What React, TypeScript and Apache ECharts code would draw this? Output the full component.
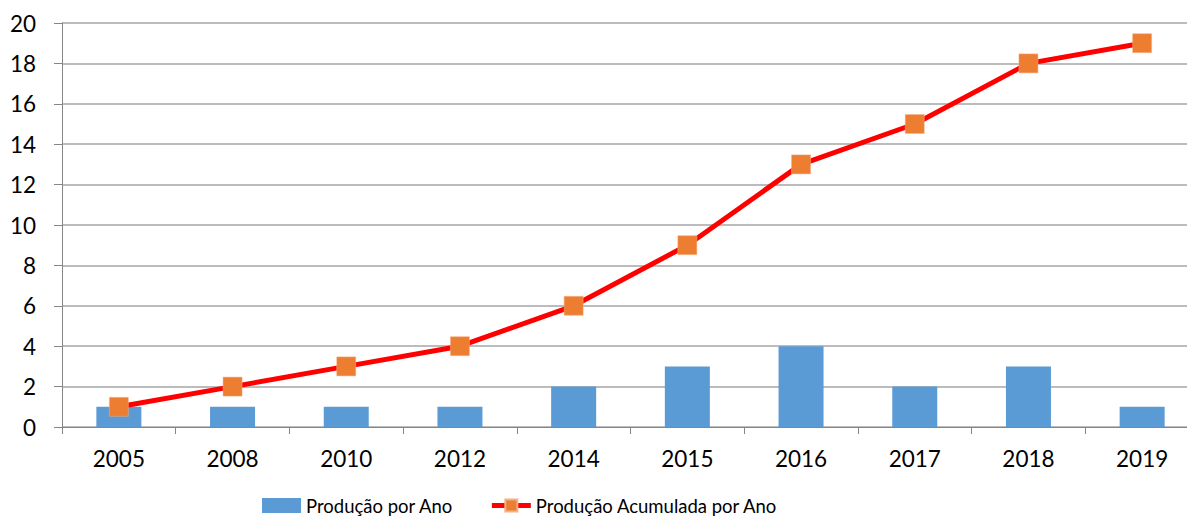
import React, { useEffect, useRef } from "react";
import * as echarts from "echarts";

const years = ["2005", "2008", "2010", "2012", "2014", "2015", "2016", "2017", "2018", "2019"];
const producaoPorAno = [1, 1, 1, 1, 2, 3, 4, 2, 3, 1];
const producaoAcumulada = [1, 2, 3, 4, 6, 9, 13, 15, 18, 19];
const barName = "Produção por Ano";
const lineName = "Produção Acumulada por Ano";

export default function App() {
  const ref = useRef<HTMLDivElement>(null);
  useEffect(() => {
    const chart = echarts.init(ref.current!, null, { renderer: "svg" });
    const font = "Lato, 'Open Sans', sans-serif";
    chart.setOption({
      animation: false,
      grid: { left: 62, top: 23, width: 1137, height: 404, containLabel: false },
      legend: {
        left: 262,
        top: 496,
        padding: 0,
        itemGap: 36,
        itemWidth: 39,
        itemHeight: 15,
        textStyle: { fontFamily: font, fontSize: 18.5, color: "#000" },
        data: [
          { name: barName, icon: "rect" },
          { name: lineName, lineStyle: { width: 5, color: "#FF0000" } },
        ],
      },
      xAxis: {
        type: "category",
        data: years,
        axisLine: { lineStyle: { color: "#868686", width: 1 } },
        axisTick: { show: true, alignWithLabel: false, length: 7, lineStyle: { color: "#868686" } },
        axisLabel: { fontFamily: font, fontSize: 22.5, color: "#000", margin: 20 },
      },
      yAxis: {
        type: "value",
        min: 0,
        max: 20,
        interval: 2,
        axisLine: { show: true, lineStyle: { color: "#868686", width: 1 } },
        axisTick: { show: true, length: 8, lineStyle: { color: "#868686" } },
        splitLine: { lineStyle: { color: "#A6A6A6", width: 1.5 } },
        axisLabel: { fontFamily: font, fontSize: 22.5, color: "#000", margin: 26 },
      },
      series: [
        {
          name: barName,
          type: "bar",
          data: producaoPorAno,
          barWidth: 45,
          itemStyle: { color: "#5B9BD5" },
        },
        {
          name: lineName,
          type: "line",
          data: producaoAcumulada,
          symbol: "rect",
          symbolSize: 19,
          lineStyle: { color: "#FF0000", width: 5 },
          itemStyle: { color: "#ED7D31", borderColor: "#F4B183", borderWidth: 0.5 },
        },
      ],
    });
    return () => chart.dispose();
  }, []);
  return (
    <div
      style={{ position: "absolute", left: 0, top: 0, width: 1187, height: 519, overflow: "hidden", background: "#fff" }}
    >
      <div ref={ref} style={{ width: 1210, height: 519 }} />
    </div>
  );
}
